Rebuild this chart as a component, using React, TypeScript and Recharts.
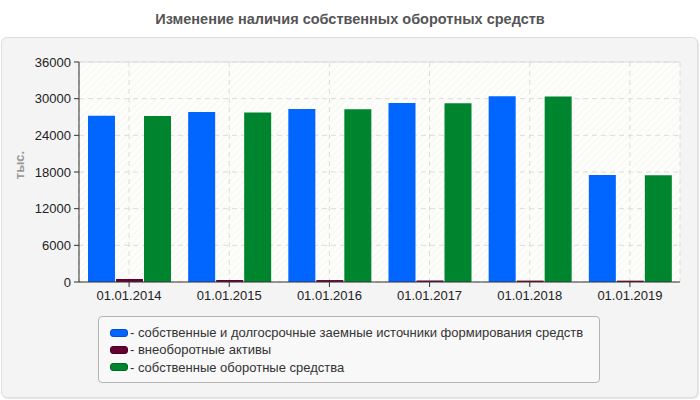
import React from 'react';
import { BarChart, Bar, XAxis, YAxis, CartesianGrid, ReferenceLine } from 'recharts';

// dates on the category axis
const dates = ['01.01.2014', '01.01.2015', '01.01.2016', '01.01.2017', '01.01.2018', '01.01.2019'];

// values, thousand rub.
const ownAndLongTerm = [27200, 27800, 28300, 29300, 30400, 17500];
const nonCurrentAssets = [490, 330, 320, 250, 230, 220];
const ownWorkingCapital = [27150, 27750, 28250, 29250, 30350, 17450];

const yTicks = [0, 6000, 12000, 18000, 24000, 30000, 36000];

const seriesNames = [
  'собственные и долгосрочные заемные источники формирования средств',
  'внеоборотные активы',
  'собственные оборотные средства',
];
const seriesColors = ['#0066ff', '#660033', '#00852f'];
const seriesBorders = ['#0050c8', '#4a0025', '#006622'];

const data = dates.map((d, i) => ({
  date: d,
  s0: ownAndLongTerm[i],
  s1: nonCurrentAssets[i],
  s2: ownWorkingCapital[i],
}));

const FONT = '"Liberation Sans", Arial, sans-serif';

const App: React.FC = () => {
  return (
    <div style={{ position: 'absolute', left: 0, top: 0, width: 700, height: 400, background: '#fff', fontFamily: FONT }}>
      {/* hatch pattern for plot background */}
      <svg width={0} height={0} style={{ position: 'absolute' }}>
        <defs>
          <pattern id="hatch" patternUnits="userSpaceOnUse" width="5" height="5" patternTransform="rotate(45)">
            <rect width="5" height="5" fill="#fdfdfa" />
            <line x1="0" y1="0" x2="0" y2="5" stroke="#f0f0f0" strokeWidth="1" />
          </pattern>
        </defs>
      </svg>

      <div style={{ position: 'absolute', left: 0, top: 11, width: 700, textAlign: 'center', fontSize: 14.5, fontWeight: 'bold', color: '#555' }}>
        Изменение наличия собственных оборотных средств
      </div>

      <div style={{ position: 'absolute', left: 1, top: 37, width: 695, height: 359, background: '#f4f4f4', border: '1px solid #dedede', borderRadius: 6, boxShadow: '1px 1px 1px #e6e6e6' }} />

      <div style={{ position: 'absolute', left: 19, top: 165, width: 0, height: 0 }}>
        <div style={{ position: 'absolute', transform: 'translate(-50%, -50%) rotate(-90deg)', fontSize: 13, fontWeight: 'bold', color: '#999', whiteSpace: 'nowrap' }}>
          тыс.
        </div>
      </div>

      <div style={{ position: 'absolute', left: 0, top: 0 }}>
        <BarChart
          width={700}
          height={400}
          data={data}
          margin={{ top: 62, right: 20, bottom: 88, left: 19 }}
          barCategoryGap={9}
          barGap={1}
        >
          <CartesianGrid stroke="#dcdcdc" strokeDasharray="5 4" fill="url(#hatch)" fillOpacity={1} />
          <XAxis
            dataKey="date"
            axisLine={{ stroke: '#333' }}
            tickLine={{ stroke: '#333' }}
            tickSize={5}
            tickMargin={4}
            tick={{ fill: '#222', fontSize: 13, fontFamily: FONT }}
            height={30}
          />
          <XAxis xAxisId="top" dataKey="date" orientation="top" height={0} tick={false} tickLine={false} axisLine={{ stroke: '#dcdcdc' }} />
          <YAxis
            domain={[0, 36000]}
            ticks={yTicks}
            interval={0}
            width={60}
            axisLine={{ stroke: '#333' }}
            tickLine={{ stroke: '#333' }}
            tickSize={5}
            tickMargin={3}
            tick={{ fill: '#222', fontSize: 13, fontFamily: FONT }}
          />
          <YAxis yAxisId="right" orientation="right" width={0} tick={false} tickLine={false} axisLine={{ stroke: '#dcdcdc' }} />
          <ReferenceLine y={36000} stroke="#dcdcdc" />
          <Bar dataKey="s0" fill={seriesColors[0]} isAnimationActive={false} />
          <Bar dataKey="s1" fill={seriesColors[1]} isAnimationActive={false} />
          <Bar dataKey="s2" fill={seriesColors[2]} isAnimationActive={false} />
        </BarChart>
      </div>

      <div style={{ position: 'absolute', left: 98, top: 316, width: 500, height: 65, border: '1px solid #b4b4b4', borderRadius: 4, background: '#f8f8f8', boxSizing: 'content-box' }}>
        <div style={{ paddingTop: 7, paddingLeft: 11 }}>
          {seriesNames.map((name, i) => (
            <div key={name} style={{ display: 'flex', alignItems: 'center', height: 17.3, fontSize: 13, color: '#333' }}>
              <span style={{ display: 'inline-block', width: 16, height: 6, background: seriesColors[i], border: `1px solid ${seriesBorders[i]}`, borderRadius: 3, marginRight: 2 }} />
              <span>- {name}</span>
            </div>
          ))}
        </div>
      </div>
    </div>
  );
};

export default App;
